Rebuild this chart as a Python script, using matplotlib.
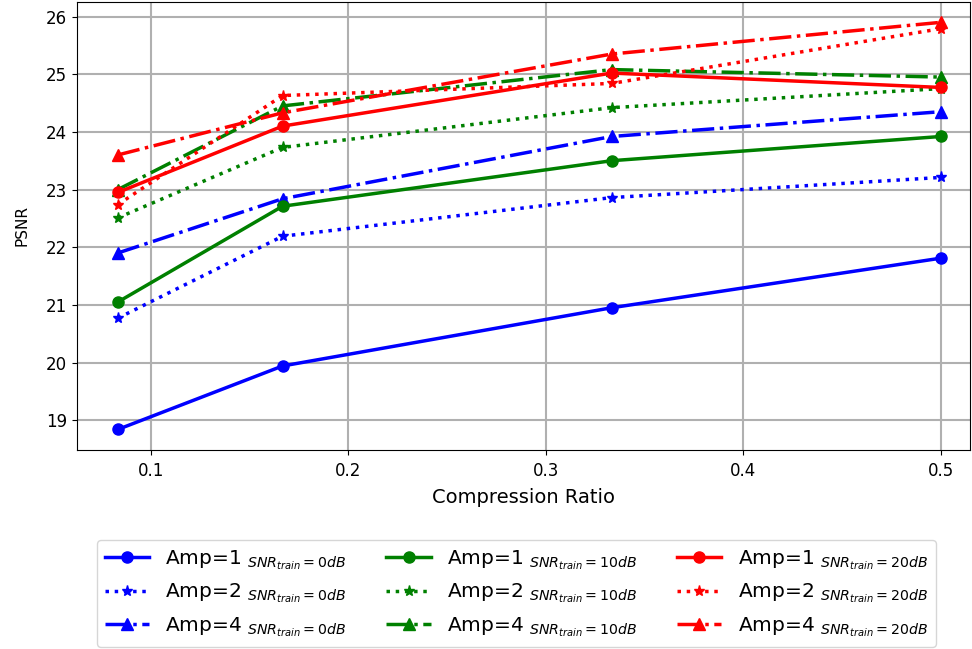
import numpy as np
import matplotlib.pyplot as plt

ratio = [1/12, 1/6, 1/3, 1/2]

# PSNR for each training SNR and amplitude
psnr_0db_amp1 = [18.84, 19.94, 20.95, 21.81]
psnr_0db_amp2 = [20.77, 22.19, 22.86, 23.21]
psnr_0db_amp4 = [21.90, 22.84, 23.92, 24.35]
psnr_10db_amp1 = [21.05, 22.71, 23.50, 23.92]
psnr_10db_amp2 = [22.51, 23.73, 24.42, 24.75]
psnr_10db_amp4 = [23.00, 24.45, 25.08, 24.95]
psnr_20db_amp1 = [22.95, 24.10, 25.02, 24.77]
psnr_20db_amp2 = [22.74, 24.63, 24.84, 25.79]
psnr_20db_amp4 = [23.60, 24.33, 25.35, 25.90]

fig = plt.figure(figsize=(9.72, 6.49), dpi=100)
ax = fig.add_axes([0.079, 0.307, 0.919, 0.690])

lw = 2.5
ms = 8
ax.plot(ratio, psnr_0db_amp1, 'b-', marker='o', lw=lw, ms=ms, label=r'Amp=1 $_{SNR_{train}=0dB}$')
ax.plot(ratio, psnr_0db_amp2, 'b:', marker='*', lw=lw, ms=ms, label=r'Amp=2 $_{SNR_{train}=0dB}$')
ax.plot(ratio, psnr_0db_amp4, 'b-.', marker='^', lw=lw, ms=ms, label=r'Amp=4 $_{SNR_{train}=0dB}$')
ax.plot(ratio, psnr_10db_amp1, 'g-', marker='o', lw=lw, ms=ms, label=r'Amp=1 $_{SNR_{train}=10dB}$')
ax.plot(ratio, psnr_10db_amp2, 'g:', marker='*', lw=lw, ms=ms, label=r'Amp=2 $_{SNR_{train}=10dB}$')
ax.plot(ratio, psnr_10db_amp4, 'g-.', marker='^', lw=lw, ms=ms, label=r'Amp=4 $_{SNR_{train}=10dB}$')
ax.plot(ratio, psnr_20db_amp1, 'r-', marker='o', lw=lw, ms=ms, label=r'Amp=1 $_{SNR_{train}=20dB}$')
ax.plot(ratio, psnr_20db_amp2, 'r:', marker='*', lw=lw, ms=ms, label=r'Amp=2 $_{SNR_{train}=20dB}$')
ax.plot(ratio, psnr_20db_amp4, 'r-.', marker='^', lw=lw, ms=ms, label=r'Amp=4 $_{SNR_{train}=20dB}$')

ax.set_xlim(0.0625, 0.5147)
ax.set_xticks([0.1, 0.2, 0.3, 0.4, 0.5])
ax.set_xticklabels(['0.1', '0.2', '0.3', '0.4', '0.5'])
ax.tick_params(labelsize=12)
ax.tick_params(axis='x', pad=5)
ax.set_xlabel('Compression Ratio', fontsize=14, labelpad=6)
ax.set_ylabel('PSNR', fontsize=11, labelpad=12)
ax.grid(True, lw=1.5)

fig.legend(loc='center', bbox_to_anchor=(0.531, 0.0855), ncol=3, fontsize=14.5,
           handlelength=2.2, columnspacing=2.0, labelspacing=0.5)

plt.savefig('out.png', dpi=100)
